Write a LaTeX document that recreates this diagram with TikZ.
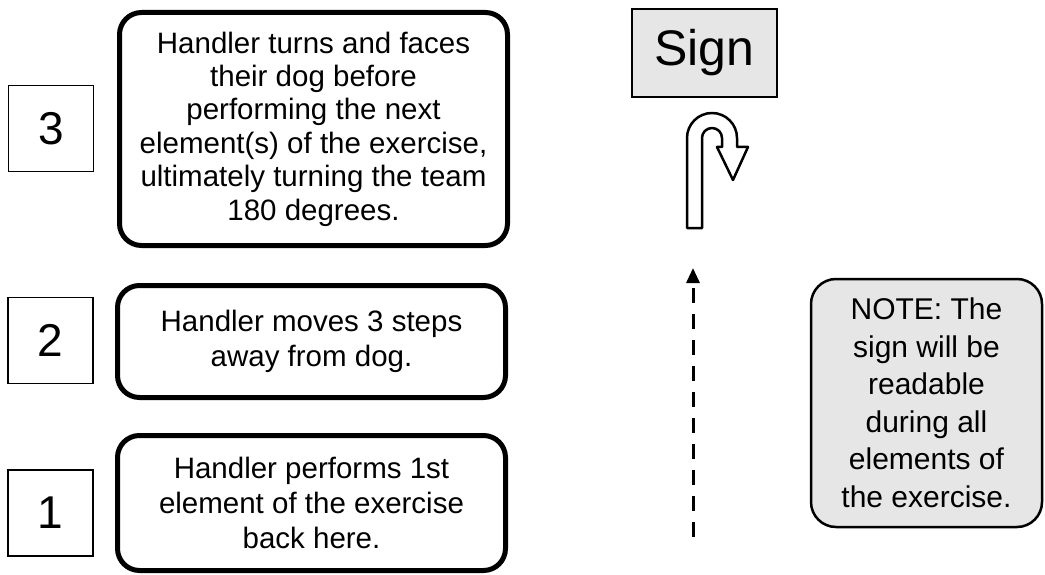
\documentclass[tikz,border=0pt]{standalone}
\usepackage{fontspec}
\setmainfont{Liberation Sans}
\usetikzlibrary{arrows.meta}
\definecolor{boxgray}{RGB}{230,230,230}
\begin{document}
\begin{tikzpicture}[x=1pt,y=-1pt,
  numbox/.style={draw, line width=1.3pt, minimum width=85pt, minimum height=86pt, inner sep=0pt,
    font=\fontsize{46}{50}\selectfont},
  stepbox/.style={draw, line width=5pt, rounded corners=22pt, minimum width=388pt, inner sep=0pt,
    align=center, font=\fontsize{29.5}{35}\selectfont},
  signbox/.style={draw, line width=2.5pt, fill=boxgray, minimum width=145pt, minimum height=88pt,
    inner sep=0pt, font=\fontsize{50}{55}\selectfont},
  notebox/.style={draw, line width=2.5pt, fill=boxgray, rounded corners=25pt, minimum width=231pt,
    minimum height=248pt, inner sep=0pt, align=center, font=\fontsize{30}{37.5}\selectfont},
  uturn/.style={draw, line width=2.5pt, fill=white, line join=round},
  dasharrow/.style={line width=3pt, dash pattern=on 15pt off 11pt, -{Triangle[width=13pt,length=15pt]}}
]
\useasboundingbox (0,0) rectangle (1045,575);

% number boxes
\node[numbox] (n3) at (51,128.5) {3};
\node[numbox] (n2) at (50.5,340.5) {2};
\node[numbox] (n1) at (50.5,513) {1};

% step boxes
\node[stepbox, minimum height=233pt, font=\fontsize{29.5}{33.4}\selectfont] (s3) at (313.5,129)
  {Handler turns and faces\\their dog before\\performing the next\\element(s) of the exercise,\\ultimately turning the team\\180 degrees.};
\node[stepbox, minimum height=112pt] (s2) at (311.5,341.5)
  {Handler moves 3 steps\\away from dog.};
\node[stepbox, minimum height=135pt] (s1) at (311.5,503)
  {Handler performs 1st\\element of the exercise\\back here.};

% sign
\node[signbox] (sign) at (704.5,53) {Sign};

% u-turn symbol
\path[uturn] (687,228) -- (687,138) arc[start angle=180, end angle=360, radius=25]
  -- (737,147) -- (748,147) -- (733,180) -- (717,147) -- (722,147) -- (722,138)
  arc[start angle=360, end angle=180, radius=10] -- (702,228) -- cycle;

% dashed path
\coordinate (dstart) at (693,537);
\coordinate (dend) at (693,268);
\draw[dasharrow] (dstart) -- (dend);

% note
\node[notebox] (note) at (926.5,403)
  {NOTE: The\\sign will be\\readable\\during all\\elements of\\the exercise.};
\end{tikzpicture}
\end{document}
